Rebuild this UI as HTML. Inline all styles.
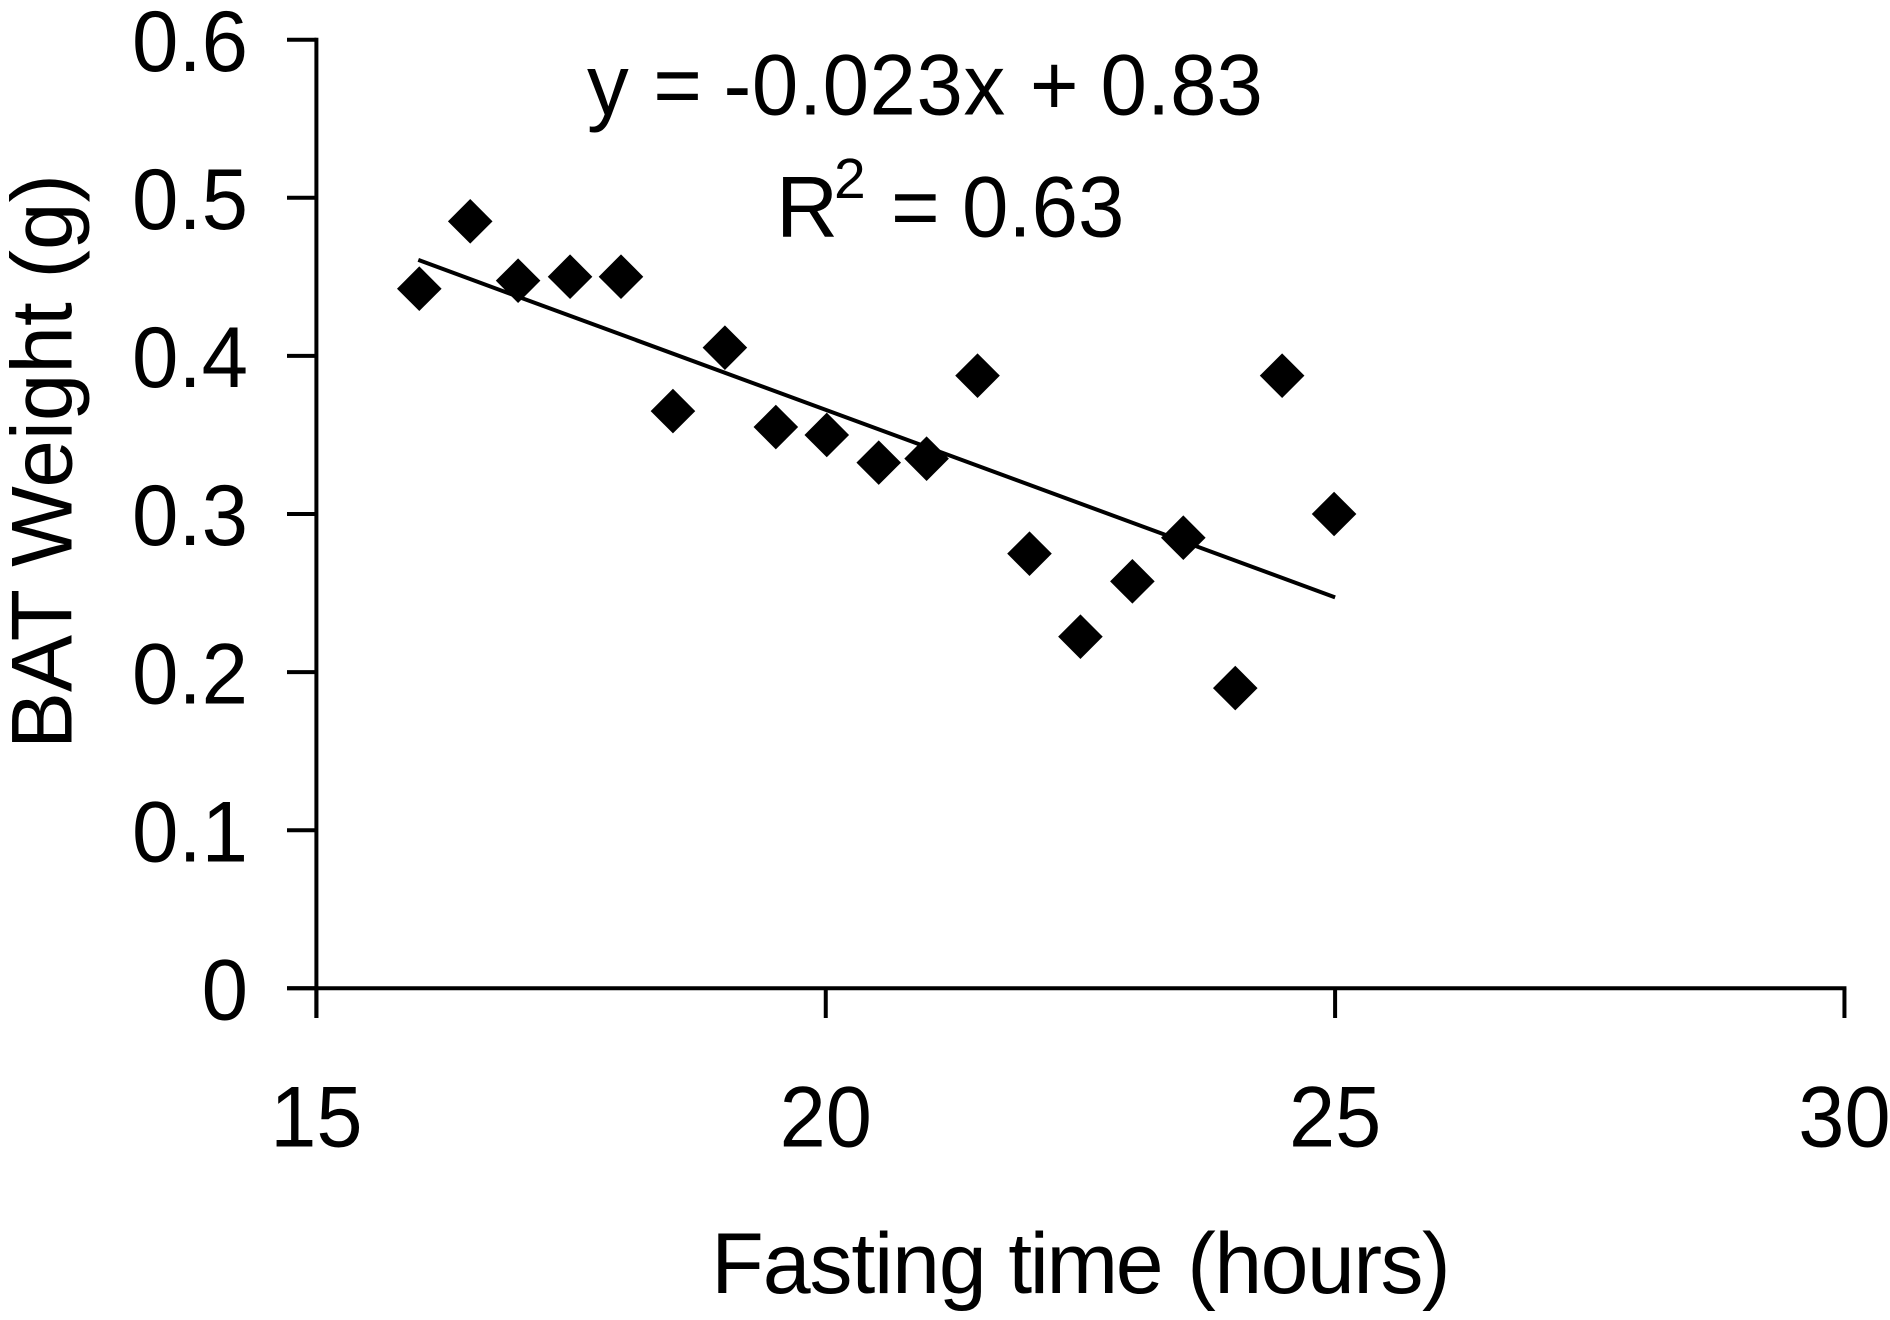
<!DOCTYPE html>
<html lang="en">
<head>
<meta charset="utf-8">
<title>BAT Weight vs Fasting Time</title>
<style>
html,body{margin:0;padding:0;background:#fff;width:1890px;height:1320px;overflow:hidden}
svg{display:block}
text{font-family:"Liberation Sans",Arial,sans-serif;fill:#000}
</style>
</head>
<body>
<svg id="chart" xmlns="http://www.w3.org/2000/svg" width="1890" height="1320" viewBox="0 0 1890 1320">
  <rect x="0" y="0" width="1890" height="1320" fill="#fff"/>
  <g id="axes"></g>
  <polyline id="trend" fill="none" stroke="#000" stroke-width="4"></polyline>
  <g id="points"></g>
  <g id="labels"></g>
  <text transform="translate(71.7,749) rotate(-90)" font-size="86" textLength="575" lengthAdjust="spacingAndGlyphs">BAT Weight (g)</text>
  <text y="1293" font-size="86"><tspan x="711.3" letter-spacing="-1.1">Fasting</tspan> <tspan x="1008.3" letter-spacing="-2.4">time</tspan> <tspan x="1187.2" letter-spacing="-1.5">(hours)</tspan></text>
  <text transform="scale(0.97,1)" y="114.3" font-size="86"><tspan x="605.2">y</tspan> <tspan x="673.5">=</tspan> <tspan x="745.9" letter-spacing="0.6">-0.023x</tspan> <tspan x="1061.8">+</tspan> <tspan x="1134.6">0.83</tspan></text>
  <text x="776" y="236.7" font-size="86">R</text>
  <text x="834" y="198" font-size="57">2</text>
  <text transform="scale(0.97,1)" y="236.7" font-size="86"><tspan x="918.6">=</tspan> <tspan x="991.8">0.63</tspan></text>
</svg>
<script>
var xValues = [16.01,16.51,16.98,17.49,17.99,18.50,19.01,19.51,20.01,20.52,20.99,21.49,22.00,22.50,23.01,23.51,24.02,24.48,24.99];
var yValues = [0.4425,0.4851,0.4476,0.4501,0.4501,0.3651,0.4052,0.3550,0.3500,0.3325,0.3350,0.3875,0.2749,0.2224,0.2574,0.2850,0.1899,0.3875,0.3000];
var trendX = [16,25];
var trendY = [0.4607,0.2473];
var xTicks = [15,20,25,30];
var yTicks = [0,0.1,0.2,0.3,0.4,0.5,0.6];
var xTickLabels = ['15','20','25','30'];
var yTickLabels = ['0','0.1','0.2','0.3','0.4','0.5','0.6'];

var NS = 'http://www.w3.org/2000/svg';
function xScale(v){ return 316.4 + (v - 15) * 101.87; }
function yScale(v){ return 988.3 - v * 1581; }
var axes = document.getElementById('axes');
var pointsG = document.getElementById('points');
var labelsG = document.getElementById('labels');

function line(x1,y1,x2,y2,w){
  var l = document.createElementNS(NS,'line');
  l.setAttribute('x1',x1);
  l.setAttribute('y1',y1);
  l.setAttribute('x2',x2);
  l.setAttribute('y2',y2);
  l.setAttribute('stroke','#000');
  l.setAttribute('stroke-width',w);
  axes.appendChild(l);
  return l;
}

var yAxis = line(xScale(15), yScale(0.6)-2, xScale(15), 1018, 4);


var xAxis = line(287, yScale(0), xScale(30)+2, yScale(0), 4);



yTicks.forEach(function(v,i){
  var t = line(287, yScale(v), xScale(15), yScale(v), 4);
  
  
  var s = document.createElementNS(NS,'text');
  
  
  s.setAttribute('transform', 'translate(248,' + (yScale(v) + 31.2) + ') scale(0.97,1)');
  s.setAttribute('font-size', 86);
  s.setAttribute('text-anchor', 'end');
  s.textContent = yTickLabels[i];
  labelsG.appendChild(s);
});

xTicks.forEach(function(v,i){
  var t = line(xScale(v), yScale(0), xScale(v), 1018, 4);
  
  
  var s = document.createElementNS(NS,'text');
  
  
  s.setAttribute('transform', 'translate(' + xScale(v) + ',1146.7) scale(0.965,1)');
  s.setAttribute('font-size', 86);
  s.setAttribute('text-anchor', 'middle');
  s.textContent = xTickLabels[i];
  labelsG.appendChild(s);
});

var R = 22.3;
xValues.forEach(function(xv,i){
  var cx = xScale(xv), cy = yScale(yValues[i]);
  var p = document.createElementNS(NS,'polygon');
  
  
  p.setAttribute('points', (cx-R)+','+cy+' '+cx+','+(cy-R)+' '+(cx+R)+','+cy+' '+cx+','+(cy+R));
  p.setAttribute('fill', '#000');
  pointsG.appendChild(p);
});

document.getElementById('trend').setAttribute('points', trendX.map(function(xv,i){
  return xScale(xv)+','+yScale(trendY[i]);
}).join(' '));
</script>
</body>
</html>
